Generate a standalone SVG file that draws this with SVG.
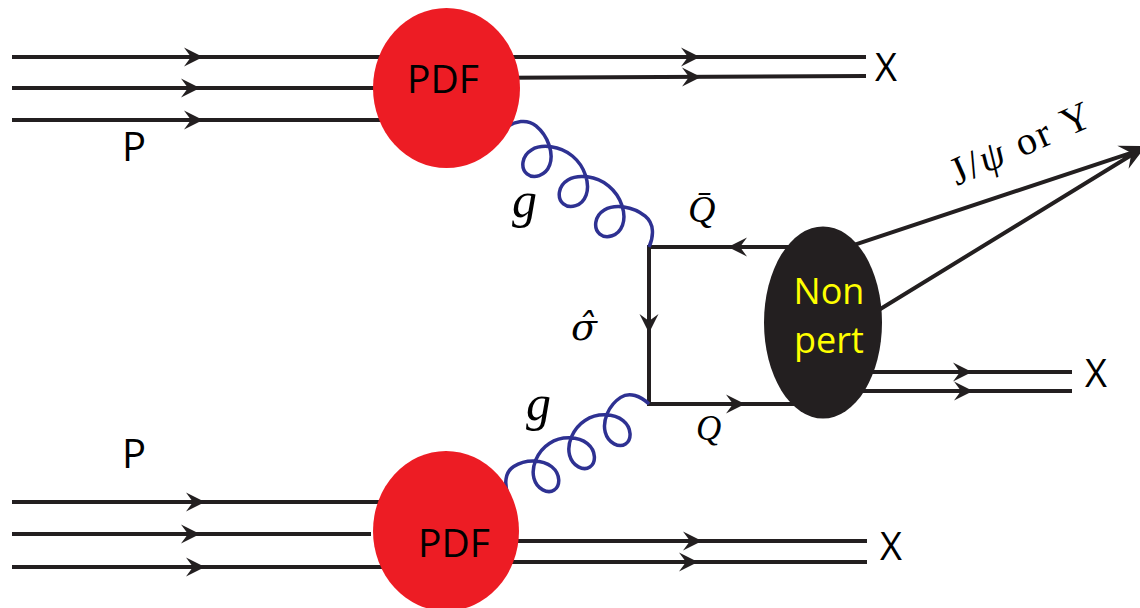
<svg xmlns="http://www.w3.org/2000/svg" width="1140" height="608" viewBox="0 0 1140 608">
<style>
.ln{stroke:#231f20;stroke-width:4;fill:none}
.gl{stroke:#2e3192;stroke-width:3.5;fill:none}
.ah{fill:#231f20}
.sans{font-family:"Open Sans","Liberation Sans",sans-serif;fill:#000}
.math{font-family:"Liberation Serif","DejaVu Serif",serif;font-style:italic;fill:#000}
.rm{font-family:"Liberation Serif","DejaVu Serif",serif;fill:#000}
.pdf{fill:#ed1c24}
.blob{fill:#231f20}
.yel{fill:#ffff00}
</style>
<defs>
<path id="ah" d="M0,0 L-19,-9.5 L-12,0 L-19,9.5 Z"/>
<path id="glp" vector-effect="non-scaling-stroke" d="M0,0 C3,-12 10,-22 21,-22 C36.18,-22 50.34,-11.52 54,0 C57.67,11.52 50.84,22 42.99,22 C35.14,22 28.33,11.52 31.99,0 C35.66,-11.52 49.8,-22 64.98,-22 C80.16,-22 94.32,-11.52 97.98,0 C101.65,11.52 94.82,22 86.97,22 C79.12,22 72.31,11.52 75.97,0 C79.64,-11.52 93.79,-22 108.97,-22 C124.15,-22 138.3,-11.52 141.96,0 C145.63,11.52 138.81,22 130.96,22 C123.11,22 116.29,11.52 119.95,0 C123.62,-11.52 137.77,-22 152.95,-22 C163.95,-22 170.95,-12 173.95,0"/>
</defs>
<rect width="1140" height="608" fill="#fff"/>
<g id="connectors">
  <path class="ln" d="M12,57 H447 M12,88 H447 M12,120 H447"/>
  <path class="ln" d="M447,57 H866 M447,78 L866,76"/>
  <path class="ln" d="M12,502 H446 M12,534 H371 M12,567 H446"/>
  <path class="ln" d="M446,541 H867 M446,562 H867"/>
  <path class="ln" d="M790,247 H649 V404 H800"/>
  <path class="ln" d="M840,249.6 L1138,150.6 M860,321.5 L1138,151"/>
  <path class="ln" d="M840,372 H1072 M840,391 H1072"/>
  <use href="#glp" class="gl" transform="translate(505,128) rotate(39.57) scale(1.074,0.97)"/>
  <use href="#glp" class="gl" transform="translate(508,495) rotate(-32.84) scale(0.965,0.95)"/>
  <g class="ah">
    <use href="#ah" transform="translate(203,57)"/>
    <use href="#ah" transform="translate(200,88)"/>
    <use href="#ah" transform="translate(203,120)"/>
    <use href="#ah" transform="translate(700,57)"/>
    <use href="#ah" transform="translate(701,77) rotate(-0.3)"/>
    <use href="#ah" transform="translate(205,502)"/>
    <use href="#ah" transform="translate(200,534)"/>
    <use href="#ah" transform="translate(205,567)"/>
    <use href="#ah" transform="translate(702,541)"/>
    <use href="#ah" transform="translate(698,562)"/>
    <use href="#ah" transform="translate(728,247) rotate(180)"/>
    <use href="#ah" transform="translate(649,333) rotate(90)"/>
    <use href="#ah" transform="translate(745,404)"/>
    <use href="#ah" transform="translate(972,372)"/>
    <use href="#ah" transform="translate(973,391)"/>
    <use href="#ah" transform="translate(1146,146) rotate(-26) scale(1.35)"/>
  </g>
</g>
<g id="pdf-top">
  <ellipse class="pdf" cx="446.5" cy="88" rx="73.5" ry="80"/>
  <text class="sans" x="443" y="93" font-size="39" text-anchor="middle">PDF</text>
</g>
<g id="pdf-bottom">
  <ellipse class="pdf" cx="446" cy="531" rx="73" ry="80"/>
  <text class="sans" x="454" y="557" font-size="39" text-anchor="middle">PDF</text>
</g>
<g id="nonpert">
  <ellipse class="blob" cx="823" cy="322.5" rx="59" ry="96"/>
  <text class="sans yel" x="829" y="304" font-size="36" text-anchor="middle">Non</text>
  <text class="sans yel" x="829" y="353" font-size="36" text-anchor="middle">pert</text>
</g>
<g id="labels">
  <text class="sans" x="122" y="161" font-size="40">P</text>
  <text class="sans" x="122" y="468" font-size="40">P</text>
  <text class="sans" x="875" y="81" font-size="38">X</text>
  <text class="sans" x="1085" y="387" font-size="38">X</text>
  <text class="sans" x="880" y="560" font-size="38">X</text>
  <text class="math" x="512" y="217" font-size="50">g</text>
  <text class="math" x="526" y="420" font-size="50">g</text>
  <text class="math" x="688" y="222" font-size="38">Q̄</text>
  <text x="571" y="340" font-size="38" font-style="italic" font-family="'DejaVu Serif', serif">σ̂</text>
  <text class="math" x="696" y="440" font-size="35">Q</text>
  <text class="rm" x="957" y="186" font-size="40" textLength="150" lengthAdjust="spacing" transform="rotate(-24 957 186)">J/<tspan font-style="italic">ψ</tspan> or Υ</text>
</g>
</svg>
